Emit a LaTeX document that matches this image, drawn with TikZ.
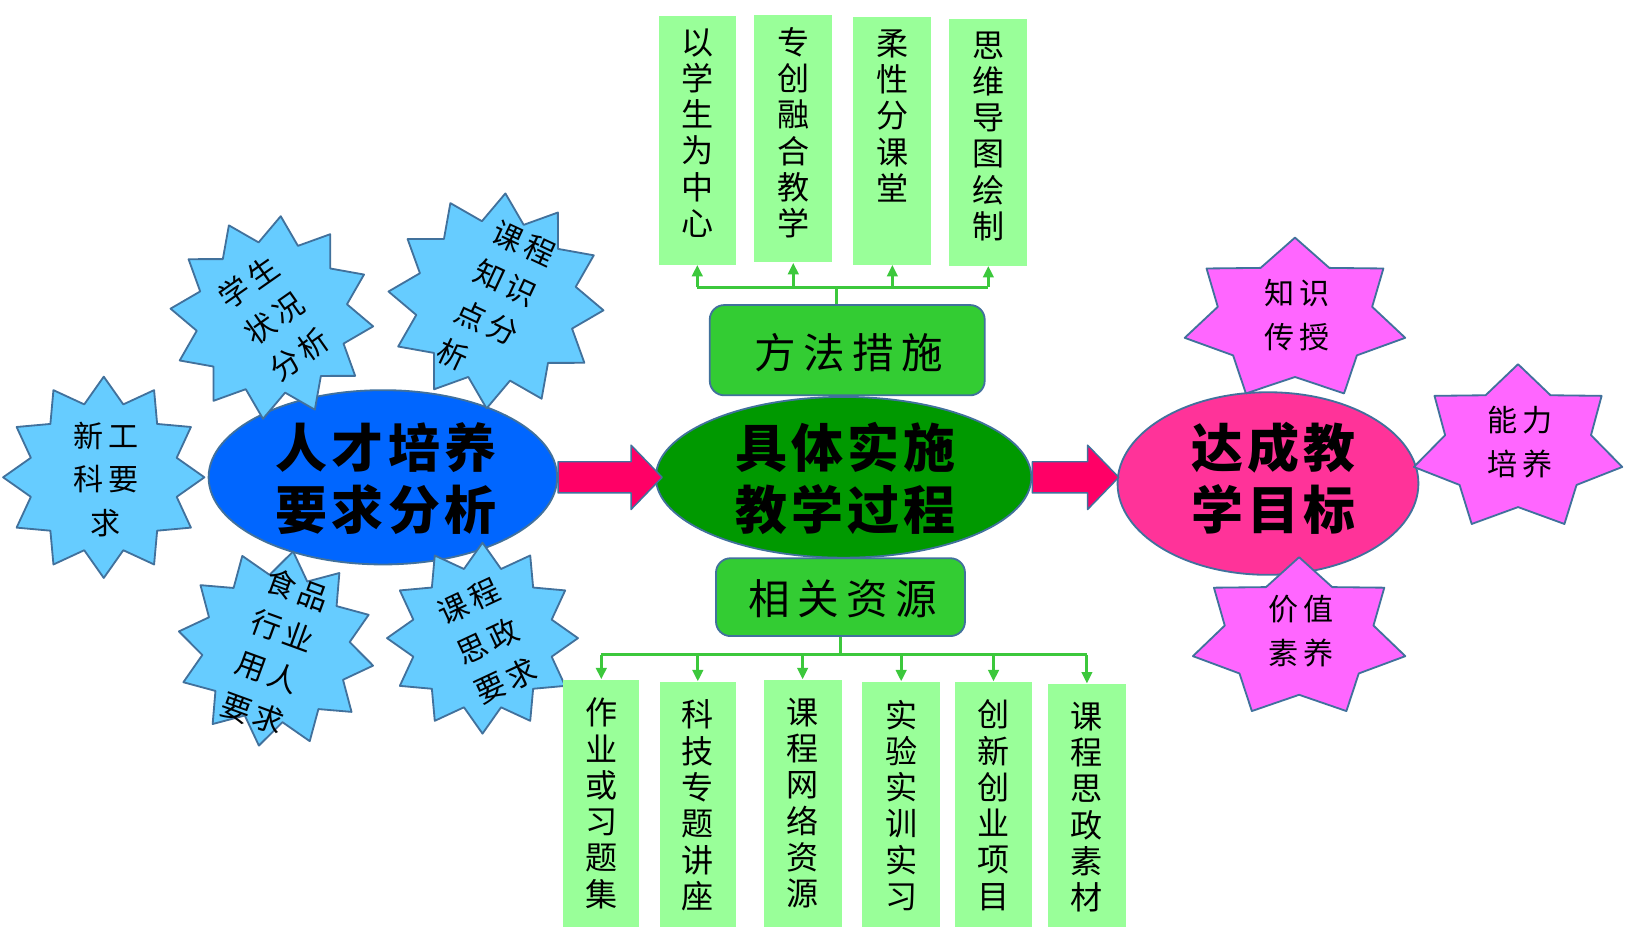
\documentclass[tikz,border=0pt]{standalone}
\usepackage{fontspec}
\usetikzlibrary{shapes.geometric,arrows.meta,calc}
\newfontfamily\cjk{Noto Sans CJK SC}
\newfontfamily\cjkT{Noto Sans CJK SC}[LetterSpace=8]
\newfontfamily\cjkH{Noto Sans CJK SC}[LetterSpace=18]
\newfontfamily\cjkS{Noto Sans CJK SC}[LetterSpace=15]
\definecolor{bluefill}{HTML}{0066FF}
\definecolor{greenfill}{HTML}{009900}
\definecolor{pinkfill}{HTML}{FF3399}
\definecolor{arrowred}{HTML}{FF0066}
\definecolor{hdrgreen}{HTML}{33CC33}
\definecolor{lightgreen}{HTML}{99FF99}
\definecolor{skyblue}{HTML}{66CCFF}
\definecolor{starpink}{HTML}{FF66FF}
\definecolor{edge}{HTML}{41719C}
\definecolor{linkgreen}{HTML}{3CC83C}
% #1 style #2 cx #3 cy #4 rx #5 ry #6 points #7 inner ratio #8 angle offset
\newcommand\burst[8]{%
  \begin{scope}[shift={(#2,#3)}]
    \pgfmathsetmacro\irx{#7*#4}\pgfmathsetmacro\iry{#7*#5}
    \draw[#1] (#8:#4 and #5) \foreach \k in {1,...,#6}{ -- ({#8+(\k-0.5)*360/#6}:{\irx} and {\iry}) -- ({#8+\k*360/#6}:#4 and #5)} -- cycle;
  \end{scope}}
\begin{document}
\begin{tikzpicture}[x=0.02cm,y=-0.02cm,line join=round,
  ell/.style={ellipse, draw=edge, line width=1pt, inner sep=0pt},
  hdr/.style={rectangle, rounded corners=0.28cm, draw=edge, line width=1pt, fill=hdrgreen, inner sep=0pt},
  lbox/.style={rectangle, fill=lightgreen, inner sep=0pt},
  vt/.style={font=\cjk\fontsize{17.6pt}{19.9pt}\selectfont, align=center, inner sep=0pt, anchor=north},
  stext/.style={font=\cjkS\fontsize{16.5pt}{24pt}\selectfont, align=center, inner sep=0pt},
  title/.style={font=\cjkT\bfseries\fontsize{28.5pt}{34pt}\selectfont, align=center, inner sep=0pt},
  htext/.style={font=\cjkH\fontsize{22.8pt}{26pt}\selectfont, inner sep=0pt},
  link/.style={draw=linkgreen, line width=1.6pt},
  linkarrow/.style={link, -{Triangle[length=0.22cm, width=0.2cm]}},
  barrow/.style={fill=arrowred, draw=edge, line width=0.8pt},
  bstar/.style={fill=skyblue, draw=edge, line width=1pt},
  pstar/.style={fill=starpink, draw=edge, line width=1pt}]
\fill[white] (0,0) rectangle (1568,902);
\useasboundingbox (0,0) rectangle (1568,902);

% ellipses
\node[ell, fill=bluefill, minimum width=6.72cm, minimum height=3.36cm] (A) at (369,460) {};
\node[ell, fill=greenfill, minimum width=7.24cm, minimum height=3.1cm] (B) at (813,460) {};
\node[ell, fill=pinkfill, minimum width=5.8cm, minimum height=3.52cm] (C) at (1222,466) {};

% blue stars
\burst{bstar}{100}{460}{97}{97}{12}{0.75}{0}
\node[stext] (s1) at (102,462) {新工\\科要\\求};
\burst{bstar}{262}{306}{98}{98}{12}{0.75}{5}
\node[stext, rotate=35] (s2) at (264,307) {学生\\状况\\分析};
\burst{bstar}{478}{290}{104}{104}{12}{0.75}{5}
\node[stext, align=left, rotate=-25] (s3) at (478,292) {课程\\知识\\点分\\析};
\burst{bstar}{266}{625}{95}{95}{12}{0.75}{10}
\node[stext, rotate=-20] (s4) at (265,628) {食品\\行业\\用人\\要求};
\burst{bstar}{465}{615}{92}{92}{12}{0.75}{0}
\node[stext, rotate=25] (s5) at (470,618) {课程\\思政\\要求};

% pink seven-point stars
\burst{pstar}{1248}{308}{109}{79}{7}{0.70}{-90}
\node[stext] (p1) at (1250,304) {知识\\传授};
\burst{pstar}{1463}{432}{103}{81}{7}{0.70}{-90}
\node[stext] (p2) at (1465,426) {能力\\培养};
\burst{pstar}{1252}{615}{105}{78}{7}{0.70}{-90}
\node[stext] (p3) at (1254,608) {价值\\素养};

% header boxes
\node[hdr, minimum width=5.3cm, minimum height=1.74cm] (m) at (816.5,337.5) {};
\node[htext] (mt) at (818,340) {方法措施};
\node[hdr, minimum width=4.8cm, minimum height=1.5cm] (r) at (810,575.5) {};
\node[htext] (rt) at (812,577) {相关资源};

% top boxes
\node[lbox, minimum width=1.48cm, minimum height=4.8cm] (t1) at (672,135) {};
\node[lbox, minimum width=1.5cm, minimum height=4.78cm] (t2) at (764.5,133.5) {};
\node[lbox, minimum width=1.5cm, minimum height=4.78cm] (t3) at (860,135.5) {};
\node[lbox, minimum width=1.5cm, minimum height=4.76cm] (t4) at (952.5,137) {};
\node[vt] (t1x) at ([yshift=-7pt]t1.north) {以\\学\\生\\为\\中\\心};
\node[vt] (t2x) at ([yshift=-7pt]t2.north) {专\\创\\融\\合\\教\\学};
\node[vt] (t3x) at ([yshift=-7pt]t3.north) {柔\\性\\分\\课\\堂};
\node[vt] (t4x) at ([yshift=-7pt]t4.north) {思\\维\\导\\图\\绘\\制};

% bottom boxes
\node[lbox, minimum width=1.46cm, minimum height=4.76cm] (b1) at (579.5,774) {};
\node[lbox, minimum width=1.46cm, minimum height=4.72cm] (b2) at (672.5,775) {};
\node[lbox, minimum width=1.5cm, minimum height=4.76cm] (b3) at (773.5,774) {};
\node[lbox, minimum width=1.5cm, minimum height=4.72cm] (b4) at (868.5,775) {};
\node[lbox, minimum width=1.5cm, minimum height=4.72cm] (b5) at (957.5,775) {};
\node[lbox, minimum width=1.5cm, minimum height=4.68cm] (b6) at (1047.5,776) {};
\node[vt] (b1x) at ([yshift=-10pt]b1.north) {作\\业\\或\\习\\题\\集};
\node[vt] (b2x) at ([yshift=-10pt]b2.north) {科\\技\\专\\题\\讲\\座};
\node[vt] (b3x) at ([yshift=-10pt]b3.north) {课\\程\\网\\络\\资\\源};
\node[vt] (b4x) at ([yshift=-10pt]b4.north) {实\\验\\实\\训\\实\\习};
\node[vt] (b5x) at ([yshift=-10pt]b5.north) {创\\新\\创\\业\\项\\目};
\node[vt] (b6x) at ([yshift=-10pt]b6.north) {课\\程\\思\\政\\素\\材};

% connectors top
\coordinate (mbar) at (806,277);
\draw[link] (m.north -| mbar) -- (mbar);
\draw[link] (t1.south |- mbar) -- (t4.south |- mbar);
\foreach \t in {t1,t2,t3,t4} \draw[linkarrow] (\t.south |- mbar) -- (\t.south);
% connectors bottom
\coordinate (rbar) at (810,631);
\draw[link] (r.south -| rbar) -- (rbar);
\draw[link] (b1.north |- rbar) -- (b6.north |- rbar);
\foreach \b in {b1,b2,b3,b4,b5,b6} \draw[linkarrow] (\b.north |- rbar) -- (\b.north);

% block arrows
\coordinate (a1s) at (A.east);
\coordinate (a1t) at ($(B.west |- A.east)+(7,0)$);
\draw[barrow] ($(a1s)+(0,-15)$) -- ($(a1t)+(-30,-15)$) -- ($(a1t)+(-30,-31)$) -- (a1t) -- ($(a1t)+(-30,31)$) -- ($(a1t)+(-30,15)$) -- ($(a1s)+(0,15)$) -- cycle;
\coordinate (a2s) at (B.east);
\coordinate (a2t) at ($(C.west |- B.east)+(2,0)$);
\draw[barrow] ($(a2s)+(0,-15)$) -- ($(a2t)+(-30,-15)$) -- ($(a2t)+(-30,-31)$) -- (a2t) -- ($(a2t)+(-30,31)$) -- ($(a2t)+(-30,15)$) -- ($(a2s)+(0,15)$) -- cycle;

% titles
\node[title] (At) at (372,461) {人才培养\\要求分析};
\node[title] (Bt) at (815,461) {具体实施\\教学过程};
\node[title] (Ct) at (1227,461) {达成教\\学目标};
\end{tikzpicture}
\end{document}
